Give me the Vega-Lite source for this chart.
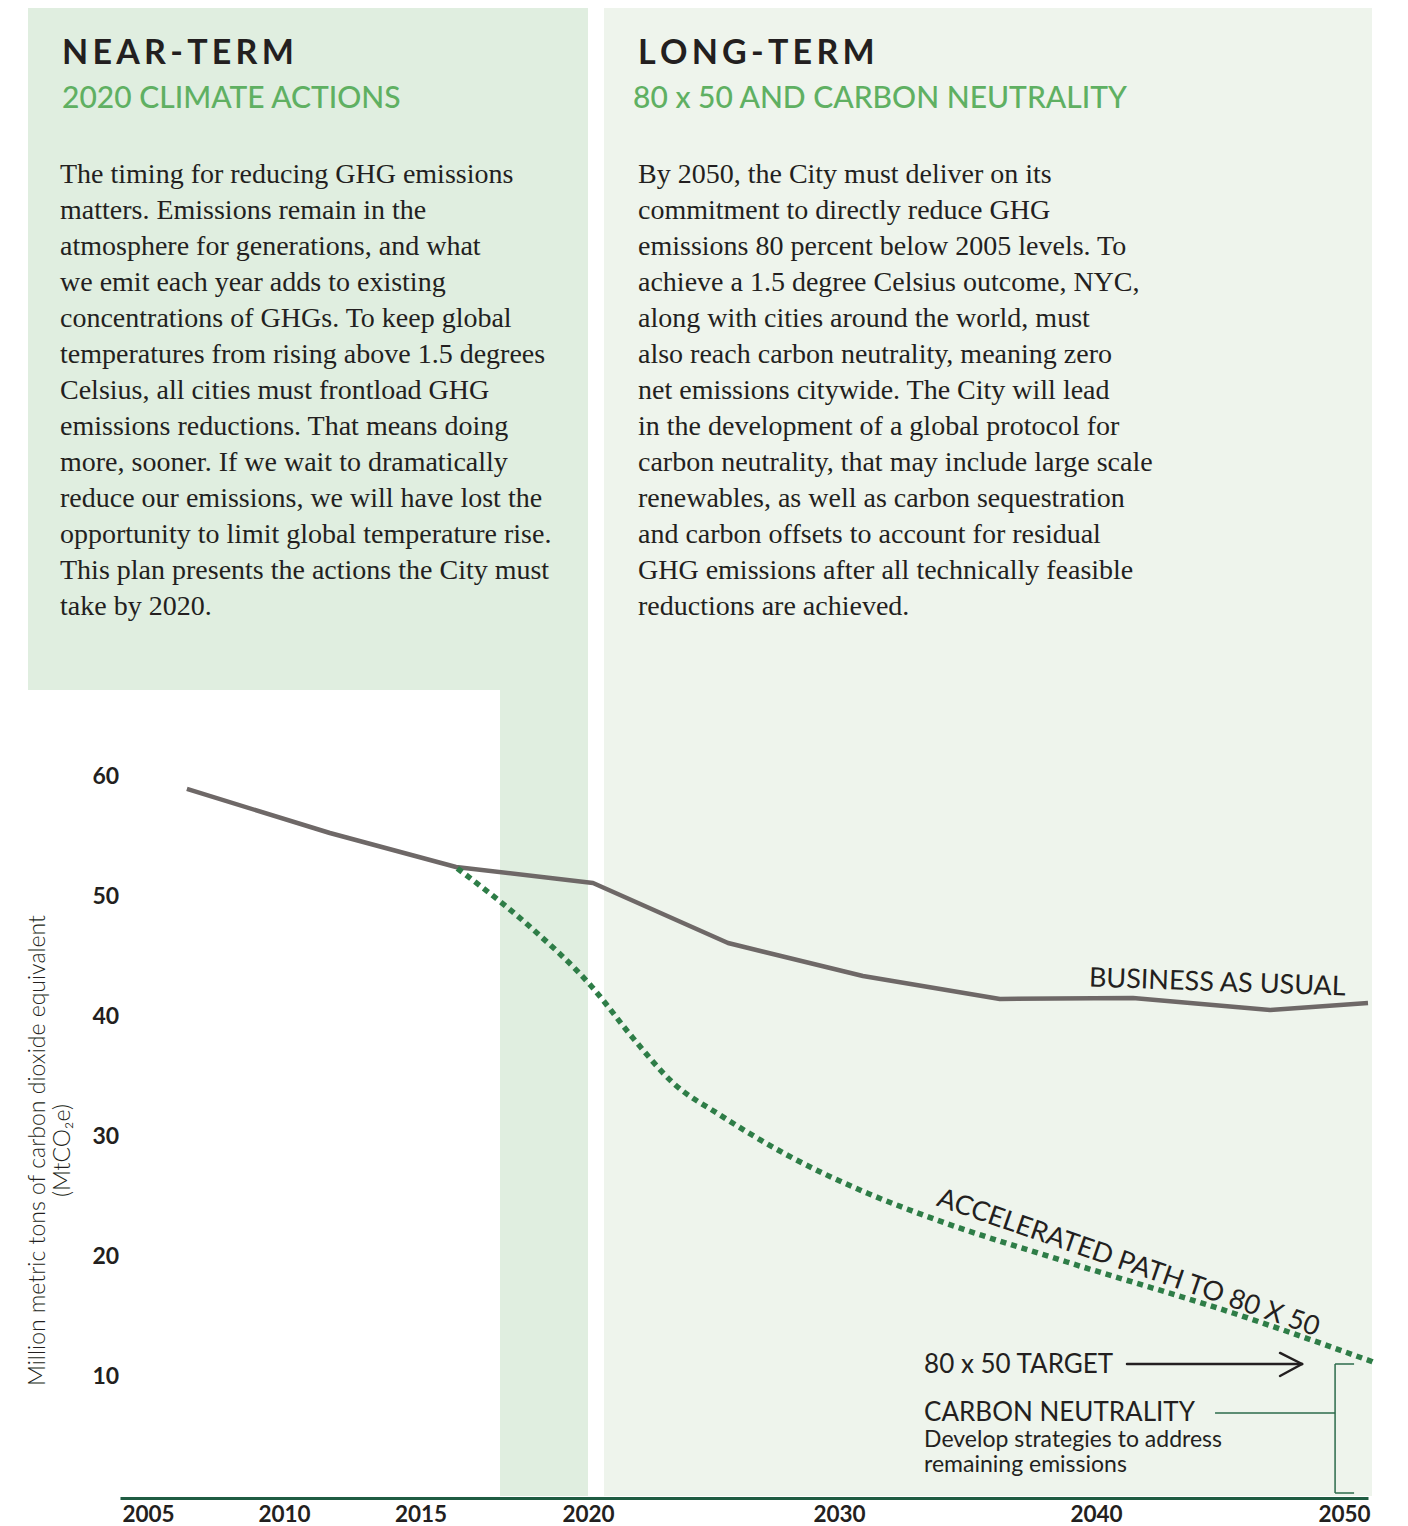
{
  "$schema": "https://vega.github.io/schema/vega-lite/v6.json",
  "width": 1408,
  "height": 1526,
  "autosize": "none",
  "padding": 0,
  "background": "#ffffff",
  "config": {"view": {"stroke": null}},
  "datasets": {
    "nearPanels": [
      {"x": 2000.714, "x2": 2020, "y": 124, "y2": 67.17},
      {"x": 2017.373, "x2": 2020, "y": 67.17, "y2": 0}
    ],
    "longPanel": [
      {"x": 2020.637, "x2": 2051.167, "y": 124, "y2": 0}
    ],
    "bau": [
      {"x": 2006.43, "y": 58.92},
      {"x": 2011.68, "y": 55.25},
      {"x": 2016.06, "y": 52.42},
      {"x": 2020.2, "y": 51.08},
      {"x": 2025.58, "y": 46.08},
      {"x": 2030.93, "y": 43.33},
      {"x": 2036.26, "y": 41.42},
      {"x": 2041.49, "y": 41.5},
      {"x": 2047.02, "y": 40.5},
      {"x": 2051.0, "y": 41.08}
    ],
    "accelerated": [
      {"x": 2016.1, "y": 52.3},
      {"x": 2018.21, "y": 47.58},
      {"x": 2020.16, "y": 42.42},
      {"x": 2021.79, "y": 38.17},
      {"x": 2023.39, "y": 34.42},
      {"x": 2025.26, "y": 31.75},
      {"x": 2027.93, "y": 28.42},
      {"x": 2031.09, "y": 25.25},
      {"x": 2033.81, "y": 23.0},
      {"x": 2038.87, "y": 19.5},
      {"x": 2045.52, "y": 15.25},
      {"x": 2051.21, "y": 11.17}
    ],
    "arrow": [
      {"x": 2041.25, "x2": 2048.31, "y": 11.0, "y2": 11.0},
      {"x": 2047.42, "x2": 2048.31, "y": 11.92, "y2": 11.0},
      {"x": 2047.42, "x2": 2048.31, "y": 10.0, "y2": 11.0}
    ],
    "bracket": [
      {"x": 2044.8, "x2": 2049.64, "y": 6.92, "y2": 6.92},
      {"x": 2049.64, "x2": 2049.64, "y": 11.0, "y2": 0.25},
      {"x": 2049.64, "x2": 2050.42, "y": 11.0, "y2": 11.0},
      {"x": 2049.64, "x2": 2050.42, "y": 0.25, "y2": 0.25}
    ],
    "headings": [
      {"x": 2001.929, "y": 119.33, "text": "N\u200a\u200aE\u200a\u200aA\u200a\u200aR\u200a\u200a-\u200a\u200aT\u200a\u200aE\u200a\u200aR\u200a\u200aM"},
      {"x": 2021.992, "y": 119.33, "text": "L\u200a\u200aO\u200a\u200aN\u200a\u200aG\u200a\u200a-\u200a\u200aT\u200a\u200aE\u200a\u200aR\u200a\u200aM"}
    ],
    "subheadings": [
      {"x": 2001.929, "y": 115.67, "text": "2020 CLIMATE ACTIONS"},
      {"x": 2021.793, "y": 115.67, "text": "80 x 50 AND CARBON NEUTRALITY"}
    ],
    "body": [
      {"x": 2001.857, "y": 109.42, "text": "The timing for reducing GHG emissions\nmatters. Emissions remain in the\natmosphere for generations, and what\nwe emit each year adds to existing\nconcentrations of GHGs. To keep global\ntemperatures from rising above 1.5 degrees\nCelsius, all cities must frontload GHG\nemissions reductions. That means doing\nmore, sooner. If we wait to dramatically\nreduce our emissions, we will have lost the\nopportunity to limit global temperature rise.\nThis plan presents the actions the City must\ntake by 2020."},
      {"x": 2021.992, "y": 109.42, "text": "By 2050, the City must deliver on its\ncommitment to directly reduce GHG\nemissions 80 percent below 2005 levels. To\nachieve a 1.5 degree Celsius outcome, NYC,\nalong with cities around the world, must\nalso reach carbon neutrality, meaning zero\nnet emissions citywide. The City will lead\nin the development of a global protocol for\ncarbon neutrality, that may include large scale\nrenewables, as well as carbon sequestration\nand carbon offsets to account for residual\nGHG emissions after all technically feasible\nreductions are achieved."}
    ],
    "bauLabel": [{"x": 2044.88, "y": 42.08, "text": "BUSINESS AS USUAL"}],
    "accLabel": [{"x": 2041.3, "y": 19.4, "text": "ACCELERATED PATH TO 80 X 50"}],
    "notes": [
      {"x": 2033.31, "y": 10.25, "text": "80 x 50 TARGET"},
      {"x": 2033.31, "y": 6.25, "text": "CARBON NEUTRALITY"}
    ],
    "smallNote": [{"x": 2033.31, "y": 4.08, "text": "Develop strategies to address\nremaining emissions"}]
  },
  "encoding": {
    "x": {
      "field": "x",
      "type": "quantitative",
      "scale": {
        "domain": [2004, 2005, 2010, 2015, 2020, 2030, 2040, 2050, 2051],
        "range": [120, 148, 284, 420.5, 588, 839, 1096, 1344, 1368],
        "zero": false,
        "nice": false
      },
      "axis": {
        "orient": "bottom",
        "offset": -28,
        "values": [2005, 2010, 2015, 2020, 2030, 2040, 2050],
        "format": "d",
        "title": null,
        "grid": false,
        "ticks": false,
        "tickSize": 0,
        "domain": true,
        "domainColor": "#1f5c42",
        "domainWidth": 3,
        "labelBaseline": "alphabetic",
        "labelPadding": 23,
        "labelFont": "Lato",
        "labelFontWeight": "bold",
        "labelFontSize": 22.5,
        "labelColor": "#231f20",
        "labelFlush": false,
        "labelOverlap": false,
        "zindex": 2
      }
    },
    "y": {
      "field": "y",
      "type": "quantitative",
      "scale": {"domain": [-2.5, 124.6667], "zero": false, "nice": false},
      "axis": {
        "orient": "left",
        "offset": -120,
        "values": [10, 20, 30, 40, 50, 60],
        "format": "d",
        "grid": false,
        "ticks": false,
        "tickSize": 0,
        "domain": false,
        "labelAlign": "left",
        "labelPadding": 28,
        "labelFont": "Lato",
        "labelFontWeight": "bold",
        "labelFontSize": 23,
        "labelColor": "#231f20",
        "title": ["Million metric tons of carbon dioxide equivalent", "(MtCO₂e)"],
        "titleFont": "Lato",
        "titleFontWeight": 300,
        "titleFontSize": 23,
        "titleColor": "#231f20",
        "titleAngle": -90,
        "titleAlign": "center",
        "titleBaseline": "alphabetic",
        "titleLineHeight": 25,
        "titleX": -76,
        "titleY": 1150,
        "zindex": 2
      }
    }
  },
  "layer": [
    {
      "data": {"name": "nearPanels"},
      "mark": {"type": "rect", "color": "#e0eee0"},
      "encoding": {"x2": {"field": "x2"}, "y2": {"field": "y2"}}
    },
    {
      "data": {"name": "longPanel"},
      "mark": {"type": "rect", "color": "#eef4ec"},
      "encoding": {"x2": {"field": "x2"}, "y2": {"field": "y2"}}
    },
    {
      "data": {"name": "bau"},
      "mark": {"type": "line", "color": "#6e6867", "strokeWidth": 4.5, "strokeJoin": "round"},
      "encoding": {"order": {"field": "x", "type": "quantitative"}}
    },
    {
      "data": {"name": "accelerated"},
      "mark": {"type": "line", "color": "#2e7d47", "strokeWidth": 5.5, "strokeDash": [6, 5], "interpolate": "monotone"},
      "encoding": {"order": {"field": "x", "type": "quantitative"}}
    },
    {
      "data": {"name": "arrow"},
      "mark": {"type": "rule", "color": "#231f20", "strokeWidth": 2.5, "strokeCap": "round"},
      "encoding": {"x2": {"field": "x2"}, "y2": {"field": "y2"}}
    },
    {
      "data": {"name": "bracket"},
      "mark": {"type": "rule", "color": "#2b6b4b", "strokeWidth": 1.5},
      "encoding": {"x2": {"field": "x2"}, "y2": {"field": "y2"}}
    },
    {
      "data": {"name": "headings"},
      "mark": {"type": "text", "align": "left", "baseline": "alphabetic", "font": "Lato", "fontWeight": "bold", "fontSize": 34, "color": "#231f20"},
      "encoding": {"text": {"field": "text"}}
    },
    {
      "data": {"name": "subheadings"},
      "mark": {"type": "text", "align": "left", "baseline": "alphabetic", "font": "Lato", "fontWeight": 500, "fontSize": 30, "color": "#5fb062"},
      "encoding": {"text": {"field": "text"}}
    },
    {
      "data": {"name": "body"},
      "mark": {"type": "text", "align": "left", "baseline": "alphabetic", "font": "Liberation Serif", "fontSize": 28, "lineHeight": 36, "lineBreak": "\n", "color": "#231f20"},
      "encoding": {"text": {"field": "text"}}
    },
    {
      "data": {"name": "bauLabel"},
      "mark": {"type": "text", "align": "center", "baseline": "alphabetic", "font": "Lato", "fontSize": 27, "angle": 2, "color": "#231f20"},
      "encoding": {"text": {"field": "text"}}
    },
    {
      "data": {"name": "accLabel"},
      "mark": {"type": "text", "align": "center", "baseline": "middle", "font": "Lato", "fontSize": 27, "angle": 19, "color": "#231f20"},
      "encoding": {"text": {"field": "text"}}
    },
    {
      "data": {"name": "notes"},
      "mark": {"type": "text", "align": "left", "baseline": "alphabetic", "font": "Lato", "fontSize": 26, "color": "#231f20"},
      "encoding": {"text": {"field": "text"}}
    },
    {
      "data": {"name": "smallNote"},
      "mark": {"type": "text", "align": "left", "baseline": "alphabetic", "font": "Lato", "fontSize": 23, "lineHeight": 25, "lineBreak": "\n", "color": "#231f20"},
      "encoding": {"text": {"field": "text"}}
    }
  ]
}
